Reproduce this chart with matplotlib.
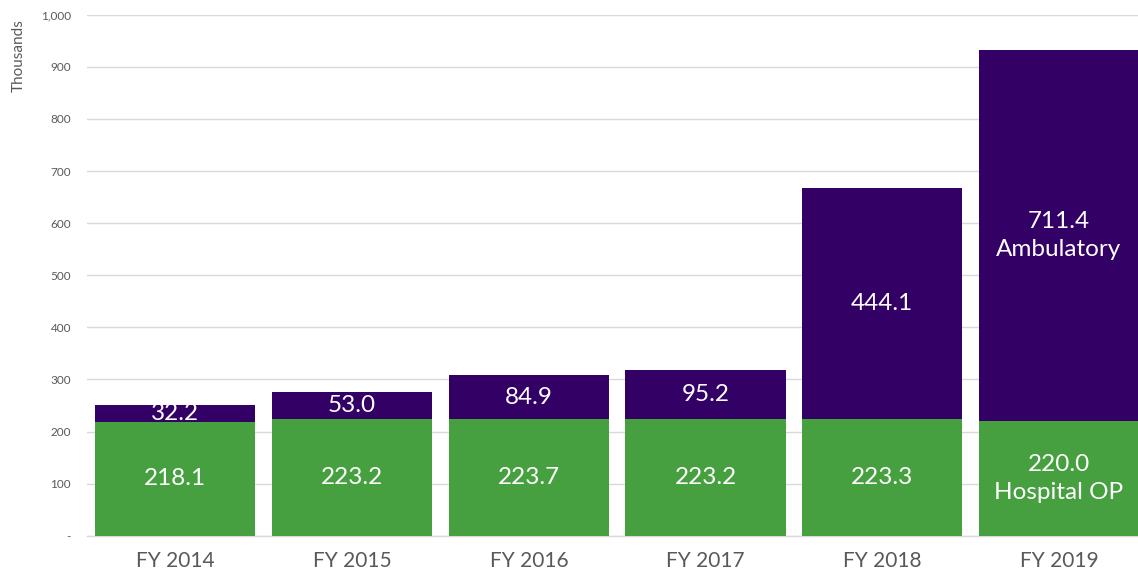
import matplotlib
matplotlib.use('Agg')
from matplotlib import pyplot as plt
import numpy as np

# Data (thousands)
years = ['FY 2014', 'FY 2015', 'FY 2016', 'FY 2017', 'FY 2018', 'FY 2019']
hospital_op = [218.1, 223.2, 223.7, 223.2, 223.3, 220.0]
ambulatory = [32.2, 53.0, 84.9, 95.2, 444.1, 711.4]
y_ticks = [0, 100, 200, 300, 400, 500, 600, 700, 800, 900, 1000]
y_tick_labels = ['-', '100', '200', '300', '400', '500', '600', '700', '800', '900', '1,000']

green = '#46A040'
purple = '#330066'
grey = '#595959'

plt.rcParams['font.family'] = ['Lato', 'DejaVu Sans']

fig = plt.figure(figsize=(11.38, 5.75), dpi=100)
ax = fig.add_axes([87 / 1138, 39.3 / 575, 1 - 87 / 1138, 521 / 575])

x = np.arange(len(years))
w = 0.906
ax.bar(x, hospital_op, width=w, color=green, zorder=3)
ax.bar(x, ambulatory, width=w, bottom=hospital_op, color=purple, zorder=3)

# value labels
for i in range(len(years)):
    h = hospital_op[i]
    a = ambulatory[i]
    low = f'{h:.1f}'
    high = f'{a:.1f}'
    if i == len(years) - 1:
        low += '\nHospital OP'
        high += '\nAmbulatory'
    ax.text(x[i], h / 2, low, ha='center', va='center', color='white',
            fontsize=17.5, linespacing=1.4, zorder=4)
    ax.text(x[i], h + a / 2, high, ha='center', va='center', color='white',
            fontsize=17.5, linespacing=1.4, zorder=4)

ax.set_xlim(-0.5, 5.447)
ax.set_ylim(0, 1000)
ax.set_xticks(x)
ax.set_xticklabels(years, fontsize=15, color=grey)
ax.set_yticks(y_ticks)
ax.set_yticklabels(y_tick_labels, fontsize=8.5, color=grey)
ax.tick_params(axis='y', length=0, pad=11.5)
ax.tick_params(axis='x', length=0, pad=11)

ax.grid(axis='y', color='#D9D9D9', linewidth=1, zorder=0)
for side in ['top', 'right', 'left']:
    ax.spines[side].set_visible(False)
ax.spines['bottom'].set_color('#D9D9D9')
ax.spines['bottom'].set_linewidth(1)

ax.text(-0.0647, 0.922, 'Thousands', transform=ax.transAxes, rotation=90,
        ha='center', va='center', fontsize=11, color=grey)

plt.savefig('out.png', dpi=100)
